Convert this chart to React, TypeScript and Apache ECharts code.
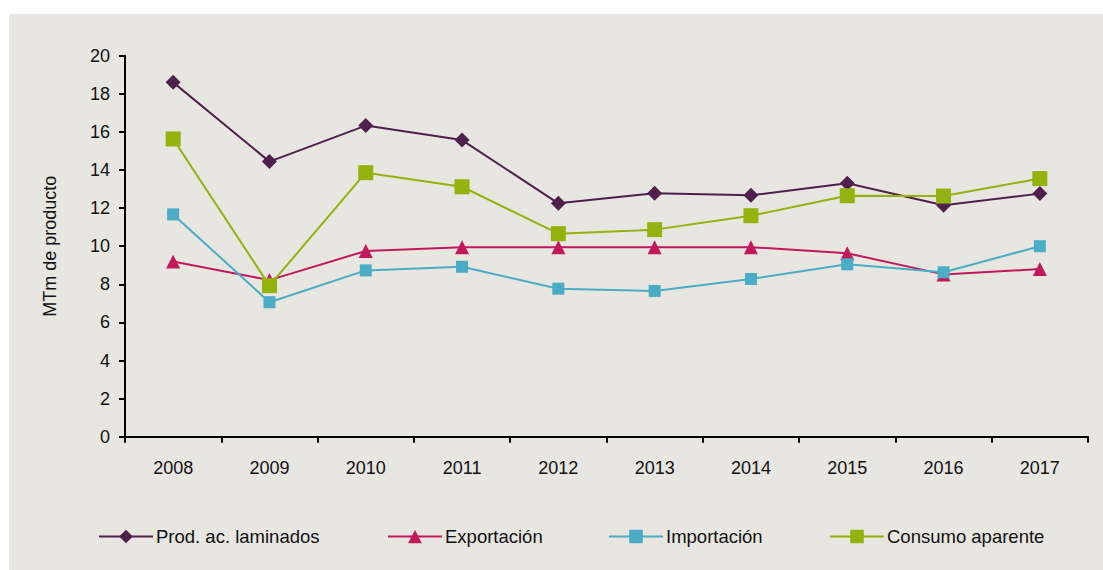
import React, { useEffect, useRef } from "react";
import * as echarts from "echarts";

const years = ["2008", "2009", "2010", "2011", "2012", "2013", "2014", "2015", "2016", "2017"];
const prodLaminados = [18.6, 14.44, 16.33, 15.57, 12.25, 12.78, 12.67, 13.3, 12.15, 12.76];
const exportacion = [9.2, 8.22, 9.75, 9.95, 9.95, 9.95, 9.95, 9.63, 8.52, 8.8];
const importacion = [11.67, 7.06, 8.73, 8.92, 7.77, 7.65, 8.28, 9.05, 8.63, 10.0];
const consumoAparente = [15.63, 7.93, 13.86, 13.12, 10.66, 10.87, 11.6, 12.65, 12.63, 13.55];

const FONT = "'Liberation Sans', Arial, sans-serif";

export default function App() {
  const ref = useRef<HTMLDivElement>(null);
  useEffect(() => {
    if (!ref.current) return;
    const chart = echarts.init(ref.current, null, { renderer: "svg" });
    const mkSeries = (name: string, data: number[], color: string, symbol: string, size: number) => ({
      name,
      type: "line",
      data,
      symbol,
      symbolSize: size,
      lineStyle: { color, width: 2 },
      itemStyle: { color },
      z: 3,
    });
    const legendItem = (name: string, left: number) => ({
      data: [name],
      left,
      top: 527,
      itemWidth: 54,
      itemHeight: 17,
      itemGap: 0,
      padding: 0,
      textStyle: { fontFamily: FONT, fontSize: 18.5, color: "#111", padding: [0, 0, 0, -2] },
    });
    chart.setOption({
      animation: false,
      backgroundColor: "#ffffff",
      textStyle: { fontFamily: FONT },
      graphic: [
        {
          type: "rect",
          shape: { x: 9, y: 14, width: 1094, height: 556 },
          style: { fill: "#E8E6E1" },
          z: -10,
          silent: true,
        },
      ],
      grid: { left: 125, right: 15, top: 55.7, bottom: 133.3, containLabel: false },
      xAxis: {
        type: "category",
        data: years,
        boundaryGap: true,
        axisLine: { lineStyle: { color: "#000", width: 2 } },
        axisTick: { show: true, alignWithLabel: false, length: 6, lineStyle: { color: "#000", width: 2 } },
        axisLabel: { color: "#111", fontSize: 18, fontFamily: FONT, margin: 22 },
        splitLine: { show: false },
      },
      yAxis: {
        type: "value",
        min: 0,
        max: 20,
        interval: 2,
        name: "MTm de producto",
        nameLocation: "middle",
        nameGap: 66,
        nameTextStyle: { color: "#111", fontSize: 18, fontFamily: FONT },
        axisLine: { show: true, lineStyle: { color: "#000", width: 2 } },
        axisTick: { show: true, length: 6, lineStyle: { color: "#000", width: 2 } },
        axisLabel: { color: "#111", fontSize: 18, fontFamily: FONT, margin: 15 },
        splitLine: { show: false },
      },
      legend: [
        legendItem("Prod. ac. laminados", 98),
        legendItem("Exportación", 387),
        legendItem("Importación", 608),
        legendItem("Consumo aparente", 829),
      ],
      series: [
        mkSeries("Prod. ac. laminados", prodLaminados, "#4F1F4D", "diamond", 15),
        mkSeries("Exportación", exportacion, "#C2185B", "triangle", 14),
        mkSeries("Importación", importacion, "#4BACC6", "rect", 12),
        mkSeries("Consumo aparente", consumoAparente, "#93B20C", "rect", 15),
      ],
    });
    return () => chart.dispose();
  }, []);
  return (
    <div
      ref={ref}
      style={{ position: "fixed", left: 0, top: 0, width: 1103, height: 570 }}
    />
  );
}
